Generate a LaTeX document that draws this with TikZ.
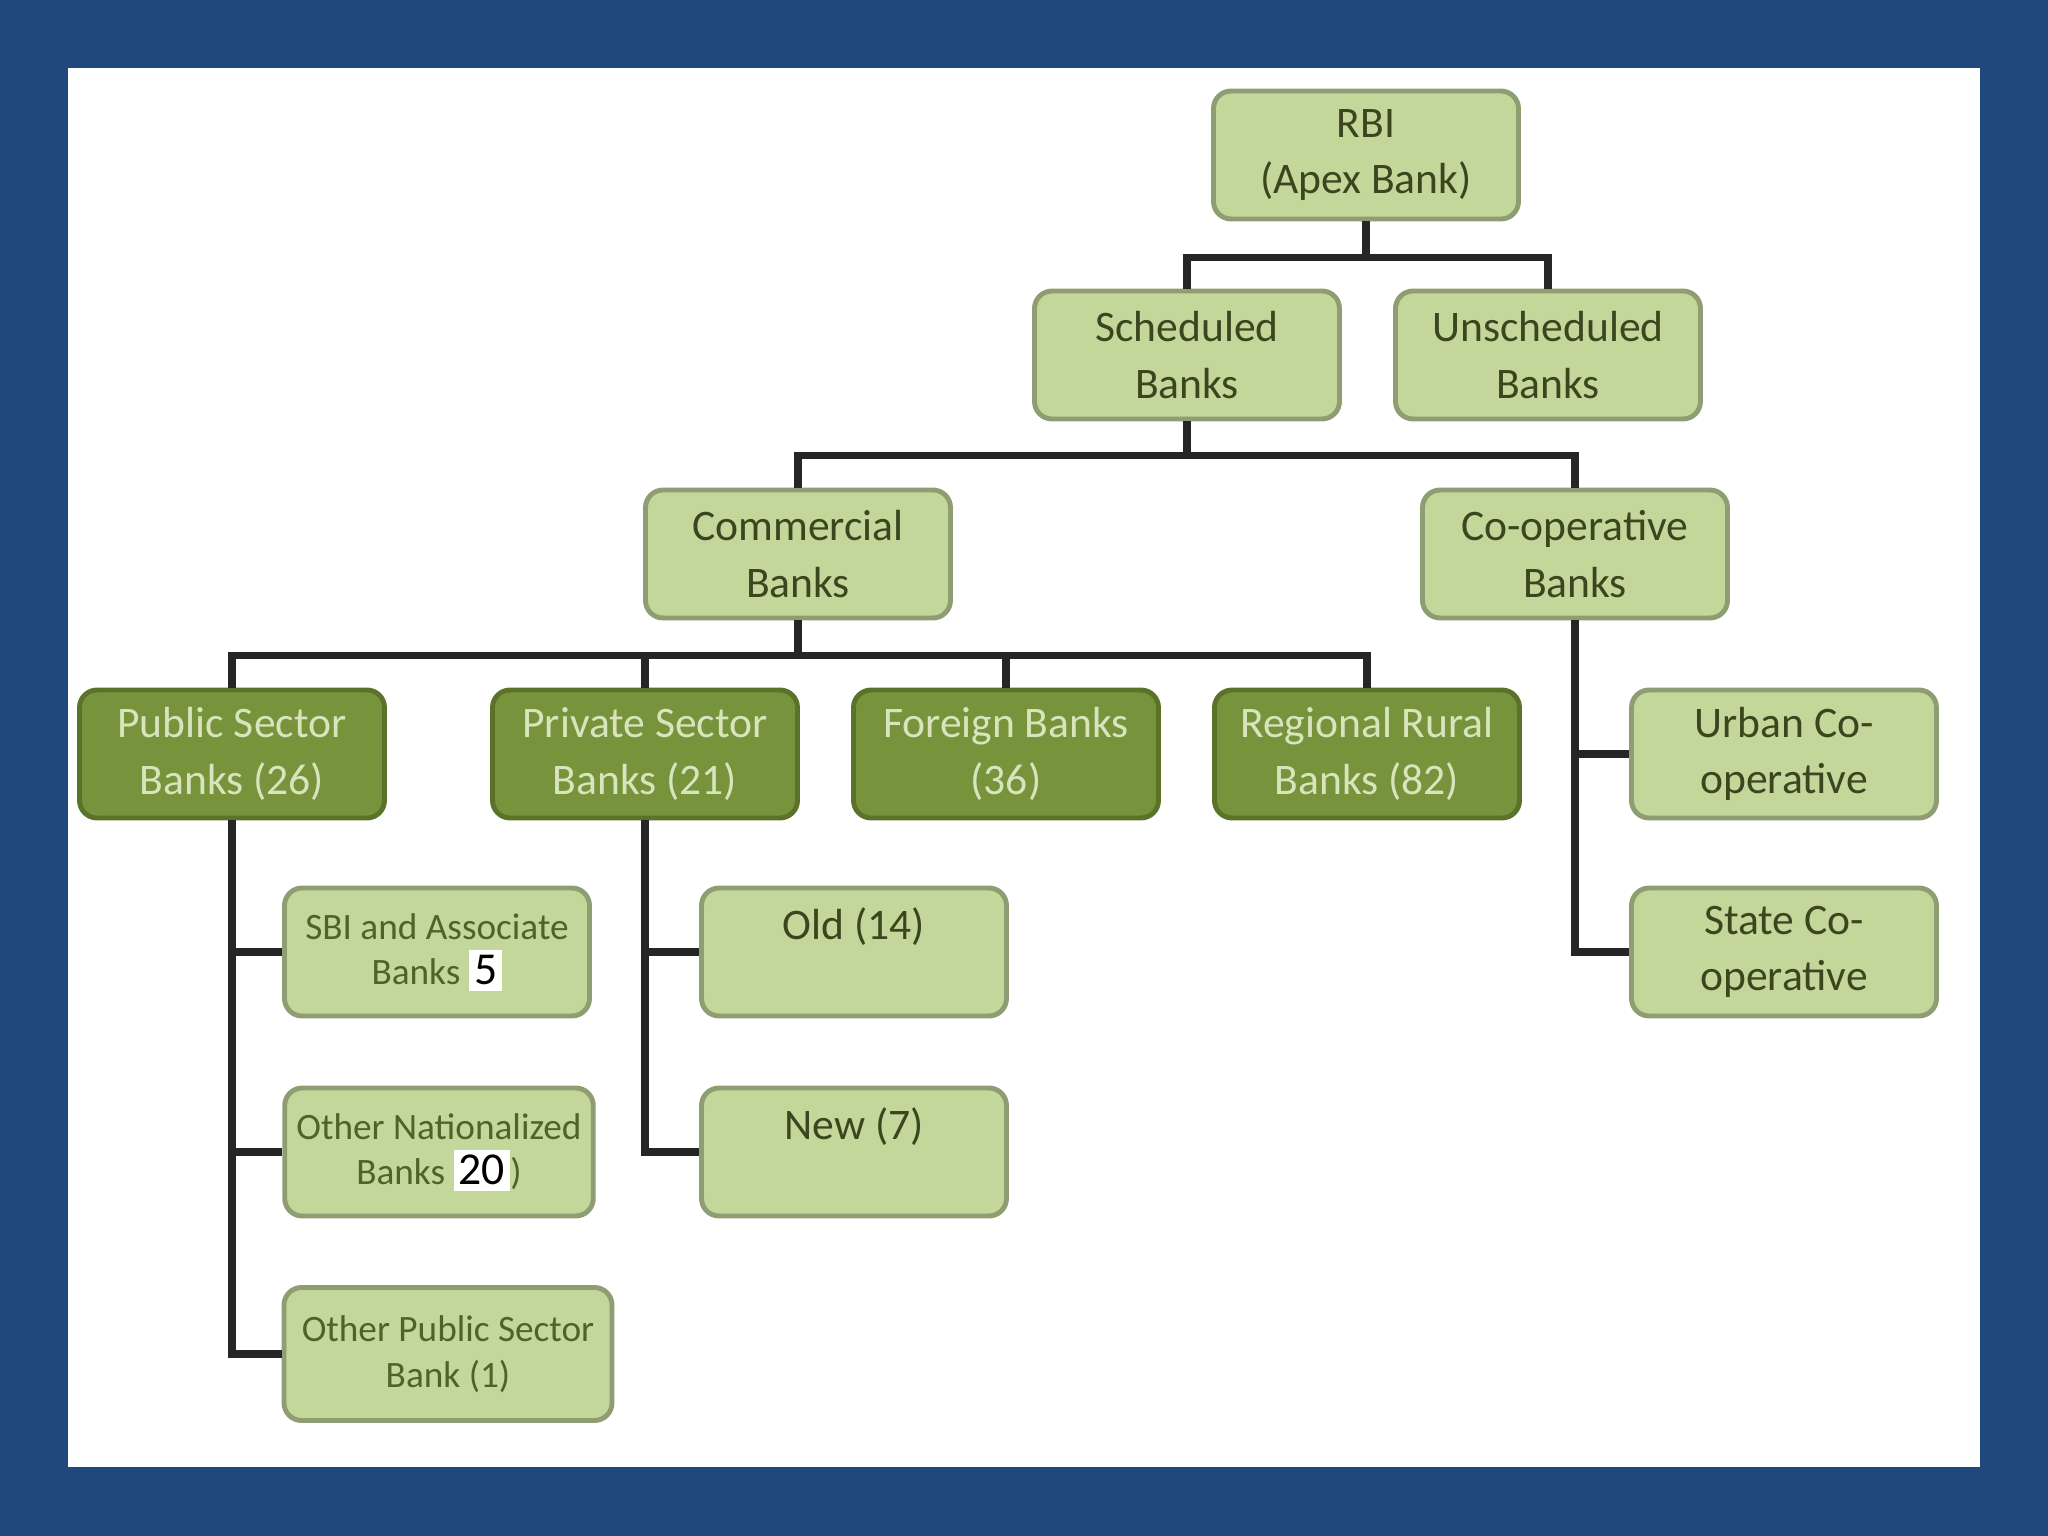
\documentclass[tikz,border=0pt]{standalone}
\usepackage{fontspec}
\setmainfont{Carlito}
\usepackage{xcolor}
\usepackage{tikz}
\usetikzlibrary{positioning,calc}
\definecolor{mFrameBlue}{HTML}{1F497D}
\definecolor{mLightOlive}{HTML}{C4D79B}
\definecolor{mLightEdge}{HTML}{8E9E72}
\definecolor{mDarkOlive}{HTML}{77933C}
\definecolor{mDarkEdge}{HTML}{5A7329}
\definecolor{mPaleText}{HTML}{D8E4BC}
\definecolor{mInk}{HTML}{3B461F}
\definecolor{mGreenInk}{HTML}{4F6228}
\newcommand{\patch}[1]{{\setlength{\fboxsep}{1.5pt}\colorbox{white}{\textcolor{black}{\fontsize{13}{13}\selectfont #1}}}}

\tikzset{
  lightbox/.style={draw=mLightEdge, line width=1.4pt, fill=mLightOlive, rounded corners=5pt,
    minimum width=3.05cm, minimum height=1.28cm, align=center, text=mInk,
    font=\fontsize{12.4}{16}\selectfont},
  darkbox/.style={lightbox, draw=mDarkEdge, fill=mDarkOlive, text=mPaleText},
  smallbox/.style={lightbox, text=mGreenInk, font=\fontsize{10.6}{13}\selectfont},
  link/.style={line width=2pt, black!85}
}

\begin{document}
\begin{tikzpicture}
% frame
\fill[mFrameBlue] (0,0) rectangle (20.48,-15.36);
\fill[white] (0.68,-0.68) rectangle (19.80,-14.67);
% top levels
\node[lightbox] (rbi) at (13.66,-1.55) {RBI\\(Apex Bank)};
\node[lightbox] (sched) at (11.87,-3.55) {Scheduled\\Banks};
\node[lightbox] (unsched) at (15.48,-3.55) {Unscheduled\\Banks};
\node[lightbox] (comm) at (7.98,-5.54) {Commercial\\Banks};
\node[lightbox] (coop) at (15.75,-5.54) {Co-operative\\Banks};
% commercial bank groups
\node[darkbox] (pub) at (2.32,-7.54) {Public Sector\\Banks (26)};
\node[darkbox] (priv) at (6.45,-7.54) {Private Sector\\Banks (21)};
\node[darkbox] (frgn) at (10.06,-7.54) {Foreign Banks\\(36)};
\node[darkbox] (rrb) at (13.67,-7.54) {Regional Rural\\Banks (82)};
% co-operative groups
\node[lightbox] (urban) at (17.84,-7.54) {Urban Co-\\operative};
\node[lightbox] (state) at (17.84,-9.52) {State Co-\\operative};
% public sector split
\node[smallbox] (sbi) at (4.37,-9.52) {SBI and Associate\\Banks \patch{5}};
\node[smallbox, minimum width=3.08cm] (onat) at (4.39,-11.52) {Other Nationalized\\Banks \patch{20})};
\node[smallbox, minimum width=3.28cm, minimum height=1.33cm] (opsb) at (4.48,-13.54) {Other Public Sector\\Bank (1)};
% private sector split
\node[lightbox] (old) at (8.54,-9.52) {Old (14)\\\mbox{}};
\node[lightbox] (new) at (8.54,-11.52) {New (7)\\\mbox{}};

% connectors
\coordinate (b1) at ($(rbi.south)+(0,-0.36)$);
\coordinate (b2) at ($(sched.south)+(0,-0.34)$);
\coordinate (b3) at ($(comm.south)+(0,-0.35)$);
\draw[link] (rbi.south) -- (b1) -| (sched.north) (b1) -| (unsched.north);
\draw[link] (sched.south) -- (b2) -| (comm.north) (b2) -| (coop.north);
\draw[link] (comm.south) -- (b3);
\foreach \g in {pub,priv,frgn,rrb}
  \draw[link] (b3) -| (\g.north);
\foreach \s in {sbi,onat,opsb}
  \draw[link] (pub.south) |- (\s.west);
\foreach \s in {old,new}
  \draw[link] (priv.south) |- (\s.west);
\foreach \s in {urban,state}
  \draw[link] (coop.south) |- (\s.west);
\end{tikzpicture}
\end{document}
